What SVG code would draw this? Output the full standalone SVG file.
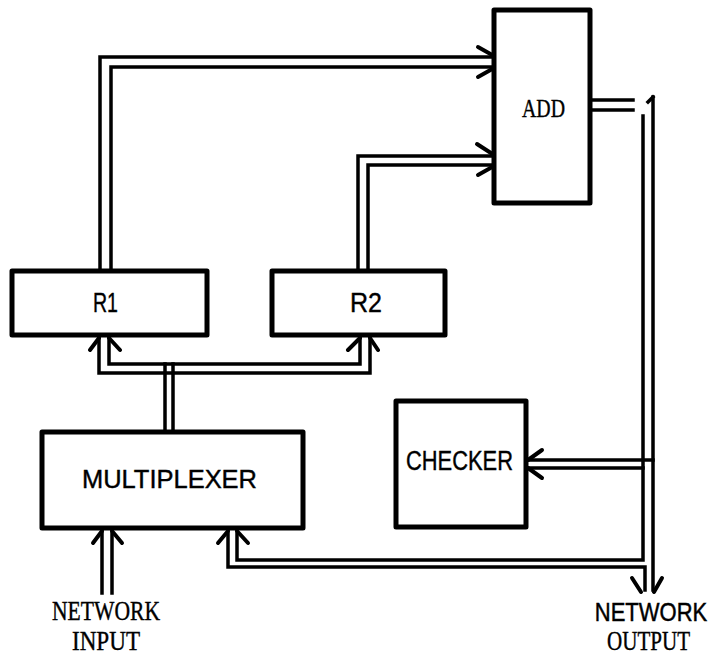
<svg xmlns="http://www.w3.org/2000/svg" width="715" height="657" viewBox="0 0 715 657">
<style>
.box{fill:#fff;stroke:#000;stroke-width:5;stroke-linejoin:round}
.bus{fill:none;stroke:#000;stroke-width:3.5;stroke-linejoin:miter;stroke-linecap:square}
.arr{fill:none;stroke:#000;stroke-width:4;stroke-linecap:round}
.sans{font-family:"Liberation Sans","DejaVu Sans",sans-serif;fill:#000;stroke:#000;stroke-width:0.4}
.serif{font-family:"Liberation Serif","DejaVu Serif",serif;fill:#000;stroke:#000;stroke-width:0.4}
</style>
<rect width="715" height="657" fill="#fff"/>
<g id="connectors">
  <path class="bus" d="M100,271 V57 H493 M111,271 V67 H493"/>
  <path class="arr" d="M478,47 L494,56 M478,77 L494,68"/>
  <path class="bus" d="M358,271 V156 H493 M368,271 V165 H493"/>
  <path class="arr" d="M477,144 L494,155 M478,175 L494,166"/>
  <path class="bus" d="M590,100 H633 M590,110 H633"/>
  <path class="bus" d="M643,116 V560 H237 V532 M653,97 V590"/>
  <path class="bus" d="M648,102 L653,97"/>
  <path class="bus" d="M228,532 V567 H645 V590"/>
  <path class="arr" d="M632,578 L641,592 M662,578 L654,592"/>
  <path class="bus" d="M529,460 H653 M529,468 H643"/>
  <path class="arr" d="M542,450 L528,460 M542,478 L528,468"/>
  <path class="bus" d="M165,432 V364 M173,432 V364"/>
  <path class="bus" d="M109,339 V364 H360 V339 M99,339 V373 H370 V339"/>
  <path class="arr" d="M90,350 L99,338 M120,350 L109,338 M348,350 L360,338 M378,350 L370,338"/>
  <path class="bus" d="M102,532 V593 M112,532 V593"/>
  <path class="arr" d="M93,543 L102,531 M122,543 L112,531 M218,543 L228,531 M248,543 L237,531"/>
</g>
<g id="add">
  <rect class="box" x="494" y="10" width="96" height="193"/>
  <text class="serif" x="522" y="117" font-size="26" textLength="43" lengthAdjust="spacingAndGlyphs">ADD</text>
</g>
<g id="r1">
  <rect class="box" x="12" y="271" width="195" height="64"/>
  <text class="sans" x="93" y="312" font-size="27" textLength="25" lengthAdjust="spacingAndGlyphs">R1</text>
</g>
<g id="r2">
  <rect class="box" x="272" y="271" width="173" height="64"/>
  <text class="sans" x="350" y="312" font-size="27" textLength="32" lengthAdjust="spacingAndGlyphs">R2</text>
</g>
<g id="multiplexer">
  <rect class="box" x="42" y="432" width="261" height="96"/>
  <text class="sans" x="82" y="488" font-size="25" textLength="175" lengthAdjust="spacingAndGlyphs">MULTIPLEXER</text>
</g>
<g id="checker">
  <rect class="box" x="396" y="401" width="130" height="126"/>
  <text class="sans" x="406" y="470" font-size="27" textLength="107" lengthAdjust="spacingAndGlyphs">CHECKER</text>
</g>
<g id="network-input">
  <text class="serif" x="52" y="620" font-size="27" textLength="108" lengthAdjust="spacingAndGlyphs">NETWORK</text>
  <text class="serif" x="72" y="650" font-size="27" textLength="68" lengthAdjust="spacingAndGlyphs">INPUT</text>
</g>
<g id="network-output">
  <text class="sans" x="651" y="621" font-size="22" text-anchor="middle" transform="translate(651,621) scale(1,1.18) translate(-651,-621)">NETWORK</text>
  <text class="serif" x="607" y="650" font-size="27" textLength="83" lengthAdjust="spacingAndGlyphs">OUTPUT</text>
</g>
</svg>
